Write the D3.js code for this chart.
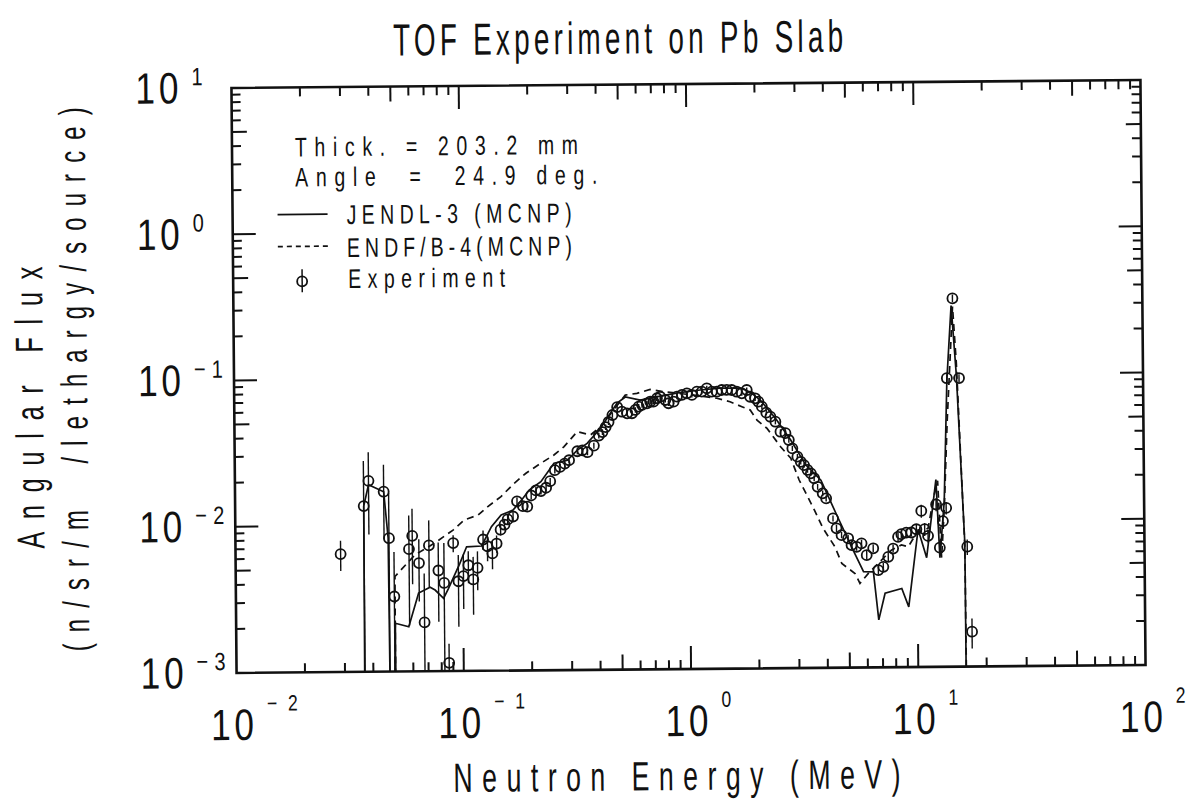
<!DOCTYPE html>
<html>
<head>
<meta charset="utf-8">
<script src="https://cdn.jsdelivr.net/npm/d3@7/dist/d3.min.js"></script>
<style>
  html, body { margin: 0; padding: 0; background: #fff; }
  svg { display: block; }
  text { font-family: "Liberation Sans", Arial, sans-serif; fill: #111; white-space: pre; }
</style>
</head>
<body>
<svg id="chart" width="1198" height="803"></svg>
<script>
// ---------------- data ----------------
// Measured angular flux, Pb slab 203.2 mm thick, detector at 24.9 deg.
const expEnergy = [
  0.029, 0.0368, 0.0387, 0.0451, 0.0474, 0.0498, 0.058, 0.060, 0.0641, 0.0675,
  0.071, 0.078, 0.0826, 0.0863, 0.0908, 0.0955, 0.1005, 0.1057, 0.111, 0.116,
  0.123, 0.1285, 0.135, 0.141, 0.147, 0.153, 0.158, 0.167, 0.174, 0.1845,
  0.193, 0.201, 0.211, 0.222, 0.234, 0.244, 0.256, 0.270, 0.283, 0.296,
  0.322, 0.339, 0.357, 0.381, 0.401, 0.416, 0.430, 0.443, 0.461, 0.484,
  0.508, 0.535, 0.562, 0.582, 0.602, 0.623, 0.655, 0.677, 0.700, 0.725,
  0.750, 0.789, 0.815, 0.858, 0.888, 0.934, 0.982, 1.033, 1.087, 1.143,
  1.202, 1.265, 1.330, 1.399, 1.472, 1.548, 1.628, 1.713, 1.802, 1.863,
  1.960, 2.026, 2.097, 2.192, 2.284, 2.402, 2.527, 2.658, 2.748, 2.846,
  2.993, 3.095, 3.199, 3.313, 3.425, 3.54, 3.664, 3.855, 3.99, 4.27,
  4.42, 4.65, 4.97, 5.14, 5.41, 5.69, 5.99, 6.40, 6.73, 7.08,
  7.45, 7.83, 8.24, 8.52, 8.96, 9.43, 9.93, 10.45, 10.8, 11.17,
  12.15, 12.57, 13.0, 13.45, 13.7, 14.6, 15.5, 16.6, 17.3
];
const expFlux = [
  0.0064, 0.0136, 0.0202, 0.0170, 0.00817, 0.00326, 0.00686, 0.00845, 0.0055, 0.00216,
  0.00726, 0.00488, 0.00401, 0.00114, 0.0075, 0.00411, 0.00445, 0.00528, 0.00422, 0.00506,
  0.0079, 0.0071, 0.00634, 0.0074, 0.0092, 0.00995, 0.0108, 0.0113, 0.01435, 0.0133,
  0.0132, 0.0157, 0.0170, 0.0168, 0.0177, 0.0196, 0.0233, 0.0245, 0.0258, 0.0272,
  0.0313, 0.0317, 0.0308, 0.0341, 0.0399, 0.0422, 0.0456, 0.0494, 0.0551, 0.0624,
  0.058, 0.0565, 0.0565, 0.0595, 0.0626, 0.0643, 0.0659, 0.0676, 0.0676, 0.0713,
  0.073, 0.0693, 0.0658, 0.0674, 0.073, 0.075, 0.0768, 0.0748, 0.0787, 0.0787,
  0.0828, 0.0785, 0.0784, 0.0805, 0.0805, 0.0804, 0.0782, 0.0762, 0.0802, 0.0721,
  0.0703, 0.0666, 0.0616, 0.056, 0.0525, 0.0485, 0.0414, 0.0404, 0.0363, 0.0318,
  0.0279, 0.0257, 0.0244, 0.0226, 0.0214, 0.0198, 0.0173, 0.0156, 0.0144, 0.0105,
  0.00898, 0.00806, 0.00766, 0.00688, 0.00669, 0.00706, 0.00586, 0.00652, 0.00462, 0.00486,
  0.00569, 0.00648, 0.00778, 0.00811, 0.00832, 0.00832, 0.00875, 0.01167, 0.00875, 0.00787,
  0.0129, 0.00653, 0.0099, 0.0122, 0.094, 0.33, 0.094, 0.0066, 0.00173
];
// one-sigma uncertainty of each measured point (absolute)
const expError = [
  0.0015, 0.0140, 0.0115, 0.0090, 0.0085, 0.0033, 0.0048, 0.0045, 0.0025, 0.0025,
  0.0035, 0.0027, 0.0035, 0.0004, 0.0010, 0.0021, 0.0018, 0.0013, 0.0018, 0.0015,
  0.0012, 0.0015, 0.0014, 0.0010, 0.0008, 0.0008, 0.0008, 0.0008, 0.0009, 0.0008,
  0.0008, 0.0009, 0.0009, 0.0009, 0.0009, 0.0010, 0.0012, 0.0012, 0.0012, 0.0013,
  0.0015, 0.0015, 0.0015, 0.0016, 0.0018, 0.0019, 0.0020, 0.0022, 0.0024, 0.0027,
  0.0025, 0.0024, 0.0024, 0.0025, 0.0026, 0.0027, 0.0027, 0.0028, 0.0028, 0.0029,
  0.0030, 0.0028, 0.0027, 0.0027, 0.0029, 0.0030, 0.0031, 0.0030, 0.0031, 0.0031,
  0.0033, 0.0031, 0.0031, 0.0032, 0.0032, 0.0032, 0.0031, 0.0030, 0.0032, 0.0029,
  0.0028, 0.0027, 0.0025, 0.0023, 0.0021, 0.0020, 0.0017, 0.0017, 0.0015, 0.0013,
  0.0012, 0.0011, 0.0010, 0.0010, 0.0009, 0.0009, 0.0008, 0.0007, 0.0007, 0.0005,
  0.0005, 0.0004, 0.0004, 0.0004, 0.0004, 0.0004, 0.0004, 0.0004, 0.0003, 0.0003,
  0.0004, 0.0004, 0.0005, 0.0005, 0.0005, 0.0005, 0.0006, 0.0012, 0.0009, 0.0008,
  0.0013, 0.0008, 0.0010, 0.0012, 0.0060, 0.0200, 0.0060, 0.0008, 0.0004
];

// MCNP calculation with JENDL-3 (0 = no flux in that bin)
const jendlEnergy = [
  0.0366, 0.0368, 0.0387, 0.0451, 0.0470, 0.0474, 0.0500, 0.0502, 0.0575, 0.0637,
  0.0716, 0.0753, 0.082, 0.0863, 0.097, 0.104, 0.121, 0.127, 0.134, 0.148,
  0.167, 0.182, 0.197, 0.222, 0.254, 0.291, 0.322, 0.356, 0.408, 0.484,
  0.526, 0.612, 0.750, 0.91, 1.124, 1.376, 1.69, 1.86, 2.06, 2.40,
  2.80, 3.26, 3.79, 4.42, 5.14, 5.79, 6.40, 6.73, 7.19, 8.52,
  9.13, 10.1, 10.99, 12.15, 12.57, 13.2, 13.7, 14.39, 15.1, 16.2, 16.25
];
const jendlFlux = [
  0, 0.0136, 0.0190, 0.0170, 0.0082, 0, 0, 0.00214, 0.00202, 0.00343,
  0.00375, 0.00359, 0.00315, 0.00368, 0.00544, 0.00706, 0.00713, 0.00824, 0.00966, 0.0116,
  0.0125, 0.0146, 0.0171, 0.0195, 0.026, 0.0272, 0.0319, 0.0354, 0.0448, 0.0664,
  0.0731, 0.0695, 0.0738, 0.0776, 0.0807, 0.083, 0.0828, 0.0778, 0.0685, 0.0514,
  0.0363, 0.0244, 0.0192, 0.0112, 0.0067, 0.00452, 0.0045, 0.00211, 0.00321, 0.00345,
  0.00258, 0.00875, 0.00558, 0.0191, 0.00557, 0.0136, 0.0914, 0.295, 0.0962, 0.0070, 0
];

// MCNP calculation with ENDF/B-4
const endfEnergy = [
  0.0500, 0.0502, 0.0615, 0.075, 0.0908, 0.102, 0.117, 0.129, 0.148, 0.169,
  0.191, 0.222, 0.254, 0.281, 0.322, 0.369, 0.408, 0.467, 0.526, 0.592,
  0.677, 0.775, 1.055, 1.33, 1.52, 1.713, 1.863, 1.994, 2.206, 2.527,
  2.80, 3.04, 3.313, 3.54, 3.855, 4.34, 4.65, 5.31, 5.58, 6.08,
  7.19, 7.69, 8.52, 9.13, 9.93, 11.17, 11.94, 12.36, 12.79, 13.2,
  13.7, 14.6, 15.1, 16.2, 16.3
];
const endfFlux = [
  0, 0.00447, 0.00625, 0.0075, 0.0092, 0.0108, 0.0116, 0.0132, 0.0155, 0.019,
  0.0223, 0.026, 0.0296, 0.0336, 0.0426, 0.0404, 0.0459, 0.0596, 0.0753, 0.0773,
  0.082, 0.0789, 0.0746, 0.0707, 0.0668, 0.0617, 0.0585, 0.0499, 0.0437, 0.0327,
  0.0272, 0.0193, 0.0148, 0.012, 0.009, 0.00672, 0.00516, 0.0044, 0.00376, 0.0044,
  0.0057, 0.00632, 0.00684, 0.00665, 0.0082, 0.00887, 0.0151, 0.0187, 0.00557, 0.0122,
  0.0486, 0.29, 0.119, 0.0066, 0
];

const xTickExponents = [-2, -1, 0, 1, 2];
const yTickExponents = [-3, -2, -1, 0, 1];

const titleText = "TOF Experiment on Pb Slab";
const xLabelText = "Neutron Energy (MeV)";
const yLabelLines = ["Angular Flux", "(n/sr/m  /lethargy/source)"];
const noteLines = ["Thick. = 203.2 mm", "Angle  =  24.9 deg."];
const seriesNames = ["JENDL-3 (MCNP)", "ENDF/B-4(MCNP)", "Experiment"];

// ---------------- layout ----------------
const plot = { left: 234, right: 1143, top: 84, bottom: 669 };
const ink = "#111";

const svg = d3.select("#chart");
svg.append("rect").attr("width", 1198).attr("height", 803).attr("fill", "#fff");

// the whole sheet sits a little askew
const sheet = svg.append("g")
  .attr("transform", `rotate(-0.5, ${(plot.left + plot.right) / 2}, ${(plot.top + plot.bottom) / 2})`);

// narrow, evenly spaced lettering of a given overall width
function label(g, str, px, py, size, width, sq, rot) {
  const t = g.append("text")
    .attr("transform", `translate(${px},${py})${rot ? " rotate(-90)" : ""} scale(${sq},1)`)
    .attr("font-size", size)
    .text(str);
  if (rot) t.attr("text-anchor", "middle");
  if (width) t.attr("textLength", width / sq).attr("lengthAdjust", "spacing");
  return t;
}

const x = d3.scaleLog().domain([1e-2, 1e2]).range([plot.left, plot.right]);
const y = d3.scaleLog().domain([1e-3, 1e1]).range([plot.bottom, plot.top]);
// zero flux falls below the frame and is clipped away
const yPos = v => (v > 0 ? y(v) : plot.bottom + 40);

sheet.append("clipPath").attr("id", "plotClip")
  .append("rect")
  .attr("x", plot.left).attr("y", plot.top)
  .attr("width", plot.right - plot.left).attr("height", plot.bottom - plot.top);

// ---------------- frame and ticks ----------------
const tickLen = v => {
  const m = Math.round(v / Math.pow(10, Math.floor(Math.log10(v) + 1e-9)));
  return m === 1 ? 23 : (m === 5 ? 15 : 9);
};

const axes = sheet.append("g").attr("stroke", ink).attr("fill", "none");
axes.append("rect")
  .attr("x", plot.left).attr("y", plot.top)
  .attr("width", plot.right - plot.left).attr("height", plot.bottom - plot.top)
  .attr("stroke-width", 2.6);

const xt = x.ticks().filter(v => v > 1e-2 * 1.0001 && v < 1e2 * 0.9999);
const yt = y.ticks().filter(v => v > 1e-3 * 1.0001 && v < 1e1 * 0.9999);

axes.selectAll("line.xb").data(xt).join("line")
  .attr("x1", d => x(d)).attr("x2", d => x(d))
  .attr("y1", plot.bottom).attr("y2", d => plot.bottom - tickLen(d))
  .attr("stroke-width", 2);
axes.selectAll("line.xt").data(xt).join("line")
  .attr("x1", d => x(d)).attr("x2", d => x(d))
  .attr("y1", plot.top).attr("y2", d => plot.top + tickLen(d))
  .attr("stroke-width", 2);
axes.selectAll("line.yl").data(yt).join("line")
  .attr("y1", d => y(d)).attr("y2", d => y(d))
  .attr("x1", plot.left).attr("x2", d => plot.left + tickLen(d))
  .attr("stroke-width", 2);
axes.selectAll("line.yr").data(yt).join("line")
  .attr("y1", d => y(d)).attr("y2", d => y(d))
  .attr("x1", plot.right).attr("x2", d => plot.right - tickLen(d))
  .attr("stroke-width", 2);

// ---------------- tick labels ----------------
const supText = e => (e < 0 ? "\u2212" + Math.abs(e) : String(e));
const xLab = sheet.append("g");
xTickExponents.forEach(e => {
  const px = x(Math.pow(10, e));
  label(xLab, "10", px - 26, 736, 44, 43, 0.8);
  label(xLab, supText(e), px + 30, 707, 22, e < 0 ? 31 : null, 0.8);
});

const yLab = sheet.append("g");
yTickExponents.forEach(e => {
  const py = y(Math.pow(10, e));
  label(yLab, "10", 138, py + 15, 44, 43, 0.8);
  label(yLab, supText(e), 194, py - 3, 25, e < 0 ? 29 : null, 0.8);
});

// ---------------- titles ----------------
label(sheet, titleText, 396, 53, 45, 450, 0.62);
label(sheet, xLabelText, 450, 790, 41, 447, 0.65);
label(sheet, yLabelLines[0], 43, 402, 39, 282, 0.65, true);
label(sheet, yLabelLines[1], 87, 374, 37, 544, 0.65, true);

// ---------------- calculated spectra ----------------
const curves = sheet.append("g").attr("clip-path", "url(#plotClip)");
const line = d3.line().x(d => x(d[0])).y(d => yPos(d[1]));

curves.append("path")
  .datum(jendlEnergy.map((e, i) => [e, jendlFlux[i]]))
  .attr("d", line).attr("fill", "none").attr("stroke", ink).attr("stroke-width", 1.7);

curves.append("path")
  .datum(endfEnergy.map((e, i) => [e, endfFlux[i]]))
  .attr("d", line).attr("fill", "none").attr("stroke", ink).attr("stroke-width", 1.7)
  .attr("stroke-dasharray", "7,5");

// ---------------- experiment ----------------
const pts = expEnergy.map((e, i) => ({ e, f: expFlux[i], s: expError[i] }));
const marks = curves.append("g").attr("stroke", ink).attr("fill", "none");
marks.selectAll("line").data(pts).join("line")
  .attr("x1", d => x(d.e)).attr("x2", d => x(d.e))
  .attr("y1", d => yPos(d.f + d.s)).attr("y2", d => yPos(d.f - d.s))
  .attr("stroke-width", 1.4);
marks.selectAll("circle").data(pts).join("circle")
  .attr("cx", d => x(d.e)).attr("cy", d => y(d.f)).attr("r", 5)
  .attr("stroke-width", 1.8);

// ---------------- legend ----------------
const leg = sheet.append("g");
label(leg, noteLines[0], 297, 153, 27, 283, 0.72);
label(leg, noteLines[1], 297, 183, 27, 302, 0.72);

leg.append("line").attr("x1", 279).attr("x2", 329).attr("y1", 211).attr("y2", 211)
  .attr("stroke", ink).attr("stroke-width", 1.7);
label(leg, seriesNames[0], 348, 221, 27, 225, 0.72);

leg.append("line").attr("x1", 279).attr("x2", 329).attr("y1", 243).attr("y2", 243)
  .attr("stroke", ink).attr("stroke-width", 1.7).attr("stroke-dasharray", "5,4");
label(leg, seriesNames[1], 348, 254, 27, 225, 0.72);

leg.append("line").attr("x1", 303).attr("x2", 303).attr("y1", 266).attr("y2", 289)
  .attr("stroke", ink).attr("stroke-width", 1.5);
leg.append("circle").attr("cx", 303).attr("cy", 278).attr("r", 5)
  .attr("fill", "none").attr("stroke", ink).attr("stroke-width", 1.8);
label(leg, seriesNames[2], 349, 285, 27, 157, 0.72);
</script>
</body>
</html>
